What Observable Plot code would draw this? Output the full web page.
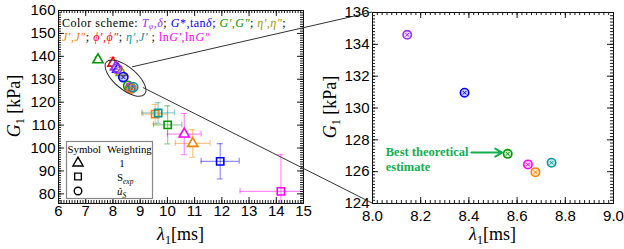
<!DOCTYPE html>
<html><head><meta charset="utf-8">
<script src="https://cdn.jsdelivr.net/npm/d3@7"></script>
<script src="https://cdn.jsdelivr.net/npm/@observablehq/plot@0.6"></script>
<style>
html,body{margin:0;padding:0;background:#fff;}
#fig{position:relative;width:624px;height:249px;overflow:hidden;}
#fig svg{position:absolute;top:0;}
</style></head><body><div id="fig"></div>
<script>
// ---- data ----
const seriesNames = ["Tφ,δ","G*,tanδ","G′,G″","η′,η″","J′,J″","ϕ′,ϕ″","η′,J′","lnG′,lnG″"];
const seriesColors = ["#9933ff","#0000ff","#009900","#999900","#ff8000","#ff0000","#009999","#ff00ff"];

// weighting "1" (triangles)
const triSeries = ["G′,G″","ϕ′,ϕ″","Tφ,δ","G*,tanδ","η′,η″","lnG′,lnG″","J′,J″"];
const triLambda = [7.45, 8.0, 8.1, 8.18, 8.3, 10.62, 10.93];
const triG = [138.5, 137.0, 135.3, 134.4, 133.0, 106.1, 102.0];
const triLambdaErr = [0.08, 0.12, 0.08, 0.08, 0.1, 0.62, 0.64];
const triGErr = [1.2, 2.5, 1.5, 1.5, 2.5, 9.0, 6.0];

// weighting S_exp (squares)
const sqSeries = ["J′,J″","η′,J′","G′,G″","G*,tanδ","lnG′,lnG″"];
const sqLambda = [9.55, 9.66, 10.01, 11.94, 14.17];
const sqG = [114.8, 115.3, 110.1, 94.2, 81.1];
const sqLambdaErr = [0.45, 0.6, 0.52, 0.7, 1.5];
const sqGErr = [4.2, 4.5, 8.3, 7.7, 16];

// weighting u_S (circles)
const cirSeries = ["Tφ,δ","G*,tanδ","G′,G″","lnG′,lnG″","J′,J″","η′,J′"];
const cirLambda = [8.144, 8.382, 8.561, 8.645, 8.676, 8.743];
const cirG = [134.6, 130.96, 127.12, 126.45, 125.97, 126.56];

// ticks
const leftXTicks = [6,7,8,9,10,11,12,13,14,15];
const leftYTicks = [80,90,100,110,120,130,140,150,160];
const rightXTicks = [8.0,8.2,8.4,8.6,8.8,9.0];
const rightYTicks = [124,126,128,130,132,134,136];

// zoom annotation
const zoomEllipse = {x: 8.48, y: 130.3};
const connectorStarts = [{x: 8.72, y: 135.2}, {x: 9.12, y: 126.2}];
const annotText = "Best theoretical\nestimate";
const annotPos = {x: 8.055, y: 127.2};
const annotArrow = {x1: 8.41, x2: 8.538, y: 127.2};

// ---- build rows ----
const rows = (s, l, g, le, ge) => s.map((d, i) => ({s: d, l: l[i], g: g[i], le: le ? le[i] : 0, ge: ge ? ge[i] : 0}));
const tri = rows(triSeries, triLambda, triG, triLambdaErr, triGErr);
const sq = rows(sqSeries, sqLambda, sqG, sqLambdaErr, sqGErr);
const cir = rows(cirSeries, cirLambda, cirG);
const errRows = tri.concat(sq);

// panel geometry (pixels) -> data-per-pixel factors for fixed-pixel tick/cap lengths
const LXD = [6, 15], LYD = [75.8, 160];
const LM = {left: 58, right: 17, top: 10, bottom: 46, width: 320, height: 249};
const RXD = [8, 9], RYD = [124, 136];
const RM = {left: 52, right: 11, top: 12, bottom: 46, width: 304, height: 249};
const per = (xd, yd, m) => ({
  kx: (xd[1] - xd[0]) / (m.width - m.left - m.right),
  ky: (yd[1] - yd[0]) / (m.height - m.top - m.bottom)
});

function errorMarks(data, k) {
  const o = {stroke: "s", strokeOpacity: 0.45, strokeWidth: 1.2, clip: true};
  const c = 3;
  return [
    Plot.ruleY(data, {y: "g", x1: d => d.l - d.le, x2: d => d.l + d.le, ...o}),
    Plot.ruleX(data, {x: "l", y1: d => d.g - d.ge, y2: d => d.g + d.ge, ...o}),
    Plot.ruleX(data, {x: d => d.l - d.le, y1: d => d.g - c * k.ky, y2: d => d.g + c * k.ky, ...o}),
    Plot.ruleX(data, {x: d => d.l + d.le, y1: d => d.g - c * k.ky, y2: d => d.g + c * k.ky, ...o}),
    Plot.ruleY(data, {y: d => d.g - d.ge, x1: d => d.l - c * k.kx, x2: d => d.l + c * k.kx, ...o}),
    Plot.ruleY(data, {y: d => d.g + d.ge, x1: d => d.l - c * k.kx, x2: d => d.l + c * k.kx, ...o})
  ];
}
function circleMarks(data, r) {
  return [
    Plot.dot(data, {x: "l", y: "g", r, stroke: "s", fill: "s", fillOpacity: 0.2, strokeWidth: 1.6}),
    Plot.dot(data, {x: "l", y: "g", r: r * 0.42, symbol: "times", stroke: "s", strokeWidth: 1})
  ];
}
// inward frame ticks as short rules on each frame edge
function frameTicks(xd, yd, k, xMinor, xMajor, yMinor, yMajor) {
  const t = {stroke: "#000", strokeWidth: 0.9};
  const out = [];
  for (const [vals, L] of [[xMinor, 3], [xMajor, 6]]) {
    out.push(Plot.ruleX(vals, {x: d => d, y1: () => yd[0], y2: () => yd[0] + L * k.ky, ...t}));
    out.push(Plot.ruleX(vals, {x: d => d, y1: () => yd[1], y2: () => yd[1] - L * k.ky, ...t}));
  }
  for (const [vals, L] of [[yMinor, 3], [yMajor, 6]]) {
    out.push(Plot.ruleY(vals, {y: d => d, x1: () => xd[0], x2: () => xd[0] + L * k.kx, ...t}));
    out.push(Plot.ruleY(vals, {y: d => d, x1: () => xd[1], x2: () => xd[1] - L * k.kx, ...t}));
  }
  out.push(Plot.frame({stroke: "#111", strokeWidth: 1}));
  return out;
}
const baseStyle = {fontFamily: "'Liberation Sans', Arial, sans-serif", fontSize: "15px", color: "#000", background: "transparent", overflow: "visible"};
const colorScale = {domain: seriesNames, range: seriesColors};

const kL = per(LXD, LYD, LM), kR = per(RXD, RYD, RM);

const left = Plot.plot({
  width: LM.width, height: LM.height, marginLeft: LM.left, marginRight: LM.right, marginTop: LM.top, marginBottom: LM.bottom,
  x: {domain: LXD, label: null, ticks: leftXTicks, tickSize: 0, tickPadding: 2, tickFormat: d3.format("d")},
  y: {domain: LYD, label: null, ticks: leftYTicks, tickSize: 0, tickPadding: 3, tickFormat: d3.format("d")},
  color: colorScale,
  style: baseStyle,
  marks: [
    ...errorMarks(errRows, kL),
    Plot.dot(tri, {x: "l", y: "g", symbol: "triangle", r: 3.8, stroke: "s", fill: "white", strokeWidth: 1.6}),
    Plot.dot(sq, {x: "l", y: "g", symbol: "square", r: 4.1, stroke: "s", fill: "none", strokeWidth: 1.6}),
    ...circleMarks(cir, 4.6),
    ...frameTicks(LXD, LYD, kL, d3.range(6, 15.0001, 0.1), leftXTicks, d3.range(76, 160.001, 1), leftYTicks)
  ]
});

const right = Plot.plot({
  width: RM.width, height: RM.height, marginLeft: RM.left, marginRight: RM.right, marginTop: RM.top, marginBottom: RM.bottom,
  x: {domain: RXD, label: null, ticks: rightXTicks, tickSize: 0, tickPadding: 7, tickFormat: d3.format(".1f")},
  y: {domain: RYD, label: null, ticks: rightYTicks, tickSize: 0, tickPadding: 3, tickFormat: d3.format("d")},
  color: colorScale,
  style: baseStyle,
  marks: [
    ...circleMarks(cir, 4.2),
    Plot.arrow([annotArrow], {x1: "x1", x2: "x2", y1: "y", y2: "y", stroke: "#10b050", strokeWidth: 2, headLength: 6, bend: 0}),
    Plot.text([annotPos], {x: "x", y: "y", text: () => annotText, textAnchor: "start", lineAnchor: "top", dy: -8, lineHeight: 1.25,
      fill: "#10b050", fontFamily: "'Liberation Serif', 'Times New Roman', serif", fontSize: 12.5, fontWeight: "bold"}),
    ...frameTicks(RXD, RYD, kR, d3.range(8, 9.0001, 0.02), rightXTicks, d3.range(124, 136.001, 0.2), rightYTicks)
  ]
});

const fig = document.getElementById("fig");
left.style.left = "0px";
right.style.left = "320px";
fig.appendChild(left);
fig.appendChild(right);

// ---- overlay: zoom ellipse, connectors, titles, legends ----
const toFn = sc => d3.scaleLinear(sc.domain, sc.range);
const lx = toFn(left.scale("x")), ly = toFn(left.scale("y"));
const rx = toFn(right.scale("x")), ry = toFn(right.scale("y"));
const ROFF = 320;
const ex = lx(zoomEllipse.x), ey = ly(zoomEllipse.y);
const s1 = connectorStarts[0], s2 = connectorStarts[1];
const c1 = [rx(8) + ROFF, ry(136)];
const c2 = [rx(8) + ROFF, ry(124)];
const serif = "'Liberation Serif','Times New Roman',serif";

const ns = "http://www.w3.org/2000/svg";
const ov = document.createElementNS(ns, "svg");
ov.setAttribute("width", 624); ov.setAttribute("height", 249);
ov.style.left = "0px"; ov.style.pointerEvents = "none";

function sym(type, x, y, size) {
  return `<path d="${d3.symbol(type, size)()}" transform="translate(${x},${y})" fill="none" stroke="#000" stroke-width="1.4"/>`;
}
const C = n => seriesColors[seriesNames.indexOf(n)];
ov.innerHTML = `
<ellipse cx="${ex}" cy="${ey}" rx="25" ry="11" transform="rotate(40 ${ex} ${ey})" fill="none" stroke="#333" stroke-width="1"/>
<line x1="${lx(s1.x)}" y1="${ly(s1.y)}" x2="${c1[0]}" y2="${c1[1]}" stroke="#333" stroke-width="1"/>
<line x1="${lx(s2.x)}" y1="${ly(s2.y)}" x2="${c2[0]}" y2="${c2[1]}" stroke="#333" stroke-width="1"/>
<g font-family="${serif}" font-size="18" fill="#000">
  <text transform="translate(20,106) rotate(-90)" text-anchor="middle"><tspan font-style="italic">G</tspan><tspan font-size="12" dy="4">1</tspan><tspan dy="-4"> [kPa]</tspan></text>
  <text transform="translate(336,107) rotate(-90)" text-anchor="middle"><tspan font-style="italic">G</tspan><tspan font-size="12" dy="4">1</tspan><tspan dy="-4"> [kPa]</tspan></text>
  <text x="180.5" y="240" text-anchor="middle"><tspan font-style="italic">λ</tspan><tspan font-size="12" dy="4">1</tspan><tspan dy="-4">[ms]</tspan></text>
  <text x="492.5" y="240" text-anchor="middle"><tspan font-style="italic">λ</tspan><tspan font-size="12" dy="4">1</tspan><tspan dy="-4">[ms]</tspan></text>
</g>
<g font-family="${serif}" font-size="12" letter-spacing="0.5">
  <text x="62" y="26.5"><tspan>Color scheme: </tspan><tspan fill="${C("Tφ,δ")}"><tspan font-style="italic">T</tspan><tspan font-size="8" dy="2" font-style="italic">φ</tspan><tspan dy="-2">,</tspan><tspan font-style="italic">δ</tspan></tspan><tspan>; </tspan><tspan fill="${C("G*,tanδ")}"><tspan font-style="italic">G</tspan>*,tan<tspan font-style="italic">δ</tspan></tspan><tspan>; </tspan><tspan fill="${C("G′,G″")}" font-style="italic">G′,G″</tspan><tspan>; </tspan><tspan fill="${C("η′,η″")}" font-style="italic">η′,η″</tspan><tspan>;</tspan></text>
  <text x="62" y="40.5"><tspan fill="${C("J′,J″")}" font-style="italic">J′,J″</tspan><tspan>; </tspan><tspan fill="${C("ϕ′,ϕ″")}" font-style="italic">ϕ′,ϕ″</tspan><tspan>; </tspan><tspan fill="${C("η′,J′")}" font-style="italic">η′,J′</tspan><tspan> ; </tspan><tspan fill="${C("lnG′,lnG″")}">ln<tspan font-style="italic">G′</tspan>,ln<tspan font-style="italic">G″</tspan></tspan></text>
</g>
<g>
  <rect x="66.5" y="141.5" width="86" height="57" fill="#fff" stroke="#888" stroke-width="1.2"/>
  <g font-family="${serif}" font-size="10.8" fill="#000">
    <text x="67.5" y="153">Symbol</text>
    <text x="107" y="153">Weighting</text>
    <text x="122" y="167" text-anchor="middle">1</text>
    <text x="117" y="181">S<tspan font-size="7.5" dy="3" font-style="italic">exp</tspan></text>
    <text x="117" y="195"><tspan font-style="italic">û</tspan><tspan font-size="7.5" dy="3" font-style="italic">S</tspan></text>
  </g>
  ${sym(d3.symbolTriangle, 78, 163, 45)}
  ${sym(d3.symbolSquare, 78, 176.5, 45)}
  ${sym(d3.symbolCircle, 78, 191, 45)}
</g>`;
fig.appendChild(ov);
</script></body></html>
